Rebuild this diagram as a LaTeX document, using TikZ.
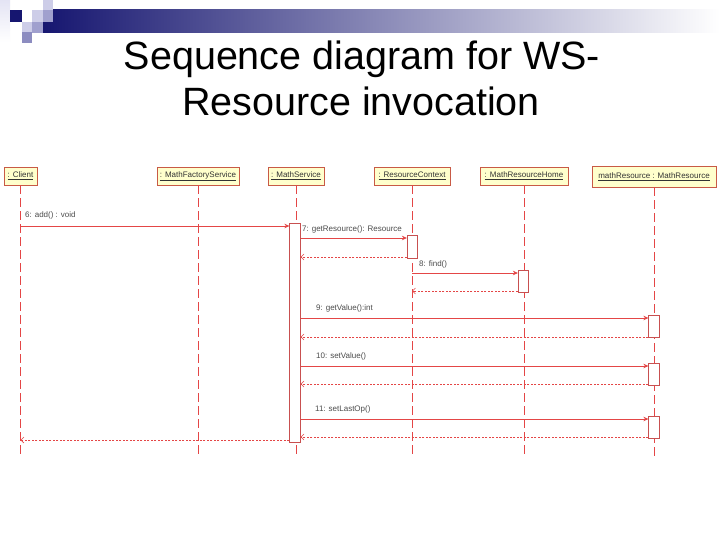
\documentclass[tikz,border=0pt]{standalone}
\usepackage{fontspec}
\setmainfont{Liberation Sans}
\usetikzlibrary{arrows.meta}
\definecolor{lred}{RGB}{228,70,70}
\definecolor{hdrfill}{RGB}{255,255,204}
\definecolor{hdrdraw}{RGB}{200,90,70}
\definecolor{actdraw}{RGB}{200,80,80}
\definecolor{navy}{RGB}{22,22,112}
\definecolor{sqlight}{RGB}{205,205,232}
\definecolor{sqpale}{RGB}{228,228,244}
\definecolor{sqmid}{RGB}{140,140,192}
\definecolor{sqmidb}{RGB}{160,160,206}
\begin{document}
\begin{tikzpicture}[x=1pt,y=-1pt,
  hdr/.style={draw=hdrdraw, fill=hdrfill, line width=0.8pt, minimum height=18pt, inner sep=0pt, font=\fontsize{8}{9}\selectfont, text=black!80},
  life/.style={draw=lred, line width=0.7pt, dash pattern=on 9pt off 4pt},
  act/.style={draw=actdraw, fill=white, line width=0.7pt, minimum width=10.5pt, inner sep=0pt},
  msg/.style={draw=lred, line width=0.8pt, -{Stealth[length=5pt,width=4.5pt]}},
  ret/.style={draw=lred, line width=0.6pt, dash pattern=on 2pt off 1.5pt, -{Straight Barb[length=3pt,width=6pt]}},
  lbl/.style={anchor=base west, inner sep=0pt, font=\fontsize{8}{9}\selectfont, text=black!70},
  ttl/.style={anchor=base, inner sep=0pt, font=\fontsize{39.5}{46}\selectfont}]
\useasboundingbox (0,0) rectangle (720,540);
\fill[white] (0,0) rectangle (720,540);
% decoration
\shade[left color=navy, right color=white] (43,10) rectangle (720,33);
\shade[top color=sqpale, bottom color=white] (0,0) rectangle (10,42);
\fill[navy] (10,10) rectangle (22,22);
\fill[sqlight] (22,22) rectangle (32,32);
\fill[sqmid] (22,32) rectangle (32,43);
\fill[sqlight] (32,10) rectangle (43,22);
\fill[sqmidb] (32,22) rectangle (43,33);
\fill[sqlight] (43,0) rectangle (53,10);
\fill[sqmidb] (43,10) rectangle (53,22);
% title
\node[ttl] (t1) at (362,70) {Sequence diagram for WS-};
\node[ttl] (t2) at (361,116) {Resource invocation};
% heads
\node[hdr, minimum width=33pt] (hC) at (20.5,176) {\underline{: Client}};
\node[hdr, minimum width=82pt] (hF) at (198,176) {\underline{: MathFactoryService}};
\node[hdr, minimum width=56pt] (hM) at (296,176) {\underline{: MathService}};
\node[hdr, minimum width=76pt] (hR) at (412,176) {\underline{: ResourceContext}};
\node[hdr, minimum width=88pt] (hH) at (524,176) {\underline{: MathResourceHome}};
\node[hdr, minimum width=124pt, minimum height=21pt] (hA) at (654,176.5) {\underline{mathResource : MathResource}};
% lifelines
\foreach \h in {hC,hF,hM,hR,hH,hA}{\draw[life] (\h.south) -- (\h.south |- 0,457);}
% activations
\node[act, minimum height=219pt] (aM) at (295,332.5) {};
\node[act, minimum height=23pt] (aR) at (412.5,246.5) {};
\node[act, minimum height=22pt] (aH) at (523.5,281) {};
\node[act, minimum height=22pt] (aA1) at (654,326) {};
\node[act, minimum height=22pt] (aA2) at (654,374) {};
\node[act, minimum height=22pt] (aA3) at (654,427) {};
% messages
\draw[msg] (hC.south |- 0,226) -- (aM.west |- 0,226);
\draw[msg] (aM.east |- 0,238) -- (aR.west |- 0,238);
\draw[ret] (aR.west |- 0,257) -- (aM.east |- 0,257);
\draw[msg] (hR.south |- 0,273) -- (aH.west |- 0,273);
\draw[ret] (aH.west |- 0,291) -- (hR.south |- 0,291);
\draw[msg] (aM.east |- 0,318) -- (aA1.west |- 0,318);
\draw[ret] (aA1.west |- 0,337) -- (aM.east |- 0,337);
\draw[msg] (aM.east |- 0,366) -- (aA2.west |- 0,366);
\draw[ret] (aA2.west |- 0,384) -- (aM.east |- 0,384);
\draw[msg] (aM.east |- 0,419) -- (aA3.west |- 0,419);
\draw[ret] (aA3.west |- 0,437) -- (aM.east |- 0,437);
\draw[ret] (aM.west |- 0,440) -- (hC.south |- 0,440);
% labels
\node[lbl] (l6) at (25,218) {6: add() : void};
\node[lbl] (l7) at (302,231) {7: getResource(): Resource};
\node[lbl] (l8) at (419,266) {8: find()};
\node[lbl] (l9) at (316,310) {9: getValue():int};
\node[lbl] (l10) at (316,358) {10: setValue()};
\node[lbl] (l11) at (315,411) {11: setLastOp()};
\end{tikzpicture}
\end{document}
